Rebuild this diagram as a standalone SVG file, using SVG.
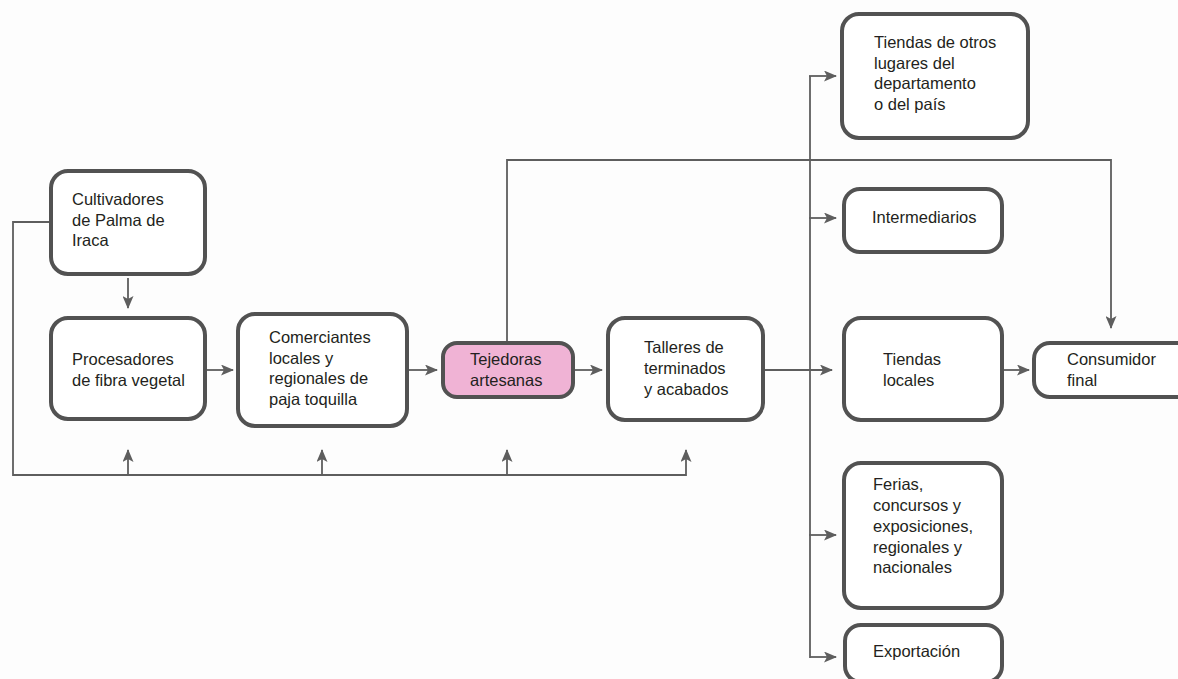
<svg xmlns="http://www.w3.org/2000/svg" width="1178" height="679" viewBox="0 0 1178 679">
<style>
.box{fill:#fff;stroke:#525252;stroke-width:4}
.pink{fill:#f0b3d5}
.ln{fill:none;stroke:#5e5e5e;stroke-width:1.8}
text{font-family:"Liberation Sans",Arial,sans-serif;font-size:16.5px;fill:#231f20}
</style>
<defs>
<marker id="ah" viewBox="0 0 13 11" refX="12" refY="5.5" markerWidth="13" markerHeight="11" markerUnits="userSpaceOnUse" orient="auto">
<path d="M0,0 L13,5.5 L0,11 L3,5.5 Z" fill="#5e5e5e"/>
</marker>
</defs>
<rect width="1178" height="679" fill="#fdfdfd"/>
<g id="connectors">
<line class="ln" x1="128" y1="278" x2="128" y2="308" marker-end="url(#ah)"/>
<line class="ln" x1="207" y1="370" x2="233" y2="370" marker-end="url(#ah)"/>
<line class="ln" x1="409" y1="370" x2="437" y2="370" marker-end="url(#ah)"/>
<line class="ln" x1="575" y1="370" x2="602" y2="370" marker-end="url(#ah)"/>
<line class="ln" x1="765" y1="370" x2="832" y2="370" marker-end="url(#ah)"/>
<line class="ln" x1="1004" y1="370" x2="1029" y2="370" marker-end="url(#ah)"/>
<polyline class="ln" points="507,341 507,160 1111,160 1111,328" marker-end="url(#ah)"/>
<line class="ln" x1="810" y1="76" x2="810" y2="658"/>
<line class="ln" x1="809" y1="76" x2="836" y2="76" marker-end="url(#ah)"/>
<line class="ln" x1="809" y1="218" x2="836" y2="218" marker-end="url(#ah)"/>
<line class="ln" x1="809" y1="535" x2="836" y2="535" marker-end="url(#ah)"/>
<polyline class="ln" points="810,657 836,657" marker-end="url(#ah)"/>
<polyline class="ln" points="49,222 13,222 13,475 686,475"/>
<line class="ln" x1="128" y1="475" x2="128" y2="450" marker-end="url(#ah)"/>
<line class="ln" x1="322" y1="475" x2="322" y2="450" marker-end="url(#ah)"/>
<line class="ln" x1="507" y1="475" x2="507" y2="450" marker-end="url(#ah)"/>
<line class="ln" x1="686" y1="476" x2="686" y2="450" marker-end="url(#ah)"/>
</g>
<g id="cultivadores">
<rect class="box" x="51" y="171" width="154" height="103" rx="17"/>
<text x="72" y="205">Cultivadores</text>
<text x="72" y="225.5">de Palma de</text>
<text x="72" y="246">Iraca</text>
</g>
<g id="procesadores">
<rect class="box" x="51" y="318" width="154" height="101" rx="17"/>
<text x="72" y="365">Procesadores</text>
<text x="72" y="386">de fibra vegetal</text>
</g>
<g id="comerciantes">
<rect class="box" x="238" y="314" width="169" height="112" rx="17"/>
<text x="269" y="343">Comerciantes</text>
<text x="269" y="363.5">locales y</text>
<text x="269" y="384">regionales de</text>
<text x="269" y="405">paja toquilla</text>
</g>
<g id="tejedoras">
<rect class="box pink" x="443" y="343" width="130" height="54" rx="14"/>
<text x="470" y="365">Tejedoras</text>
<text x="470" y="386">artesanas</text>
</g>
<g id="talleres">
<rect class="box" x="608" y="318" width="155" height="102" rx="17"/>
<text x="644" y="353">Talleres de</text>
<text x="644" y="374">terminados</text>
<text x="644" y="395">y acabados</text>
</g>
<g id="tiendas-otros">
<rect class="box" x="842" y="14" width="186" height="124" rx="17"/>
<text x="874" y="48">Tiendas de otros</text>
<text x="874" y="68.5">lugares del</text>
<text x="874" y="89">departamento</text>
<text x="874" y="109.5">o del país</text>
</g>
<g id="intermediarios">
<rect class="box" x="844" y="189" width="158" height="63" rx="16"/>
<text x="872" y="223">Intermediarios</text>
</g>
<g id="tiendas-locales">
<rect class="box" x="844" y="318" width="158" height="102" rx="17"/>
<text x="883" y="365">Tiendas</text>
<text x="883" y="386">locales</text>
</g>
<g id="consumidor">
<rect class="box" x="1034" y="343" width="160" height="54" rx="16"/>
<text x="1067" y="365">Consumidor</text>
<text x="1067" y="386">final</text>
</g>
<g id="ferias">
<rect class="box" x="844" y="463" width="158" height="145" rx="17"/>
<text x="873" y="490">Ferias,</text>
<text x="873" y="511">concursos y</text>
<text x="873" y="532">exposiciones,</text>
<text x="873" y="552.5">regionales y</text>
<text x="873" y="573">nacionales</text>
</g>
<g id="exportacion">
<rect class="box" x="845" y="625" width="157" height="57" rx="16"/>
<text x="873" y="657">Exportación</text>
</g>
</svg>
